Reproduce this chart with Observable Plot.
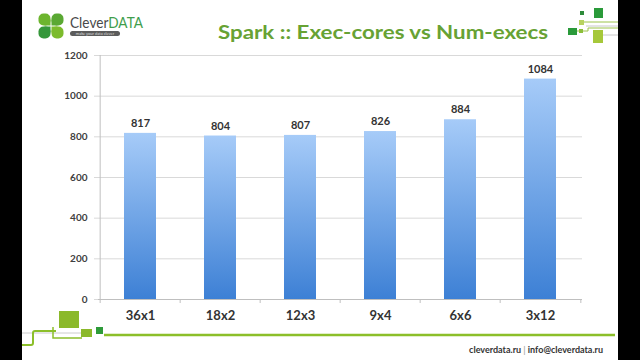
<!DOCTYPE html>
<html>
<head>
<meta charset="utf-8">
<script src="https://cdn.jsdelivr.net/npm/d3@7"></script>
<script src="https://cdn.jsdelivr.net/npm/@observablehq/plot@0.6"></script>
<style>
  html, body { margin: 0; padding: 0; background: #000; width: 640px; height: 360px; overflow: hidden; }
  #slide { position: absolute; left: 22px; top: 0; width: 596px; height: 360px; background: #fff; }
  #deco, #chart { position: absolute; left: 0; top: 0; }
  #chart svg { background: transparent; }
</style>
</head>
<body>
<div id="slide"></div>
<svg id="deco" width="640" height="360" xmlns="http://www.w3.org/2000/svg">
  <defs>
    <linearGradient id="barGrad" x1="0" y1="0" x2="0" y2="1">
      <stop offset="0" stop-color="#a6cbf8"/>
      <stop offset="1" stop-color="#3d80d5"/>
    </linearGradient>
  </defs>
  <!-- logo clover -->
  <g>
    <rect x="38.5" y="13.5" width="12" height="12" rx="5" fill="#6cb52e"/>
    <rect x="44.5" y="19.5" width="6" height="6" fill="#6cb52e"/>
    <rect x="51.5" y="13.5" width="12" height="12" rx="5" fill="#5aa833"/>
    <rect x="51.5" y="19.5" width="6" height="6" fill="#5aa833"/>
    <rect x="38.5" y="26.5" width="12" height="12" rx="5" fill="#35973a"/>
    <rect x="44.5" y="26.5" width="6" height="6" fill="#35973a"/>
    <rect x="51.5" y="26.5" width="12" height="12" rx="5" fill="#7cbb2c"/>
    <rect x="51.5" y="26.5" width="6" height="6" fill="#7cbb2c"/>
  </g>
  <text x="70" y="28" font-family="Lato, sans-serif" font-size="15" textLength="73" lengthAdjust="spacingAndGlyphs"><tspan fill="#4a4a4a">Clever</tspan><tspan fill="#3f9e4c">DATA</tspan></text>
  <rect x="70" y="31" width="50" height="5" rx="2.5" fill="#5c5c5c"/>
  <text x="95" y="35" text-anchor="middle" font-family="Lato, sans-serif" font-size="4" fill="#dddddd">make your data clever</text>
  <!-- title -->
  <text x="218" y="39" font-family="Lato, sans-serif" font-weight="bold" font-size="19" fill="#67a234" textLength="330" lengthAdjust="spacingAndGlyphs">Spark :: Exec-cores vs Num-execs</text>
  <!-- top-right decoration -->
  <g>
    <line x1="584" y1="22" x2="618" y2="22" stroke="#9cc44a" stroke-width="1"/>
    <line x1="586" y1="26" x2="618" y2="26" stroke="#c8c8c8" stroke-width="1"/>
    <polyline points="577,31 588,31 588,28 618,28" fill="none" stroke="#9cc44a" stroke-width="1"/>
    <line x1="603" y1="35" x2="618" y2="35" stroke="#c8c8c8" stroke-width="1"/>
    <rect x="580" y="11" width="4" height="4" fill="#2e8b3a"/>
    <rect x="594" y="8" width="9" height="10" fill="#2a9a3a"/>
    <rect x="579" y="20" width="5" height="5" fill="#b8d260"/>
    <rect x="568" y="28" width="9" height="7" fill="#2a9a3a"/>
    <rect x="579" y="29" width="4" height="4" fill="#8cbf3a"/>
    <rect x="593" y="30" width="10" height="13" fill="#a6c83a"/>
  </g>
  <!-- bottom-left decoration -->
  <g>
    <line x1="22" y1="333" x2="82" y2="333" stroke="#cccccc" stroke-width="1"/>
    <path d="M22,345 H31 Q33,345 33,343 V333 Q33,331 35,331 H56" fill="none" stroke="#8cbf2a" stroke-width="2"/>
    <path d="M53,327 V338 H82" fill="none" stroke="#8cbf2a" stroke-width="1.5"/>
    <rect x="59" y="311" width="20" height="17" fill="#8bb92a"/>
    <rect x="81" y="329" width="11" height="8" fill="#8bb92a"/>
    <rect x="96" y="327" width="7" height="7" fill="#2e9b3a"/>
    <line x1="104" y1="335" x2="615" y2="335" stroke="#8cbf2a" stroke-width="2.5"/>
  </g>
  <!-- footer -->
  <text x="603" y="353" text-anchor="end" font-family="Lato, sans-serif" font-weight="bold" font-size="9"><tspan fill="#333">cleverdata.ru</tspan><tspan fill="#b0b0b0">  |  </tspan><tspan fill="#333">info@cleverdata.ru</tspan></text>
</svg>
<div id="chart"></div>
<script>
const categories = ["36x1", "18x2", "12x3", "9x4", "6x6", "3x12"];
const values = [817, 804, 807, 826, 884, 1084];
const yTicks = [0, 200, 400, 600, 800, 1000, 1200];

const data = categories.map((c, i) => ({config: c, time: values[i]}));

const W = 640, H = 360, mL = 98, mR = 58, mT = 55, mB = 61;
const step = (W - mL - mR) / categories.length;

const chart = Plot.plot({
  width: W,
  height: H,
  marginLeft: mL,
  marginRight: mR,
  marginTop: mT,
  marginBottom: mB,
  style: {background: "transparent", fontFamily: "Lato, sans-serif", overflow: "visible"},
  x: {domain: categories, paddingInner: 0.6, paddingOuter: 0.3, axis: null},
  y: {domain: [0, 1200], axis: null},
  marks: [
    Plot.ruleY(yTicks, {stroke: "#d9d9d9", strokeWidth: 1, insetLeft: -4}),
    Plot.ruleX([categories[0]], {dx: -step / 2, stroke: "#bfbfbf", strokeWidth: 1}),
    Plot.ruleY([0], {stroke: "#bfbfbf", strokeWidth: 1}),
    Plot.ruleX(categories, {dx: -step / 2, y1: 0, y2: 0, insetBottom: -4, stroke: "#bfbfbf"}),
    Plot.ruleX([categories[categories.length - 1]], {dx: step / 2, y1: 0, y2: 0, insetBottom: -4, stroke: "#bfbfbf"}),
    Plot.barY(data, {x: "config", y: "time", fill: "url(#barGrad)"}),
    Plot.text(data, {x: "config", y: "time", text: d => String(d.time), dy: -10, fontSize: 11, fontWeight: "bold", fill: "#333"}),
    Plot.text(yTicks, {y: d => d, frameAnchor: "left", textAnchor: "end", dx: -11, text: d => String(d), fontSize: 10, fontWeight: "bold", fill: "#404040"}),
    Plot.text(categories, {x: d => d, frameAnchor: "bottom", dy: 20, text: d => d, fontSize: 13, fontWeight: "bold", fill: "#333"})
  ]
});
document.getElementById("chart").appendChild(chart);
</script>
</body>
</html>
